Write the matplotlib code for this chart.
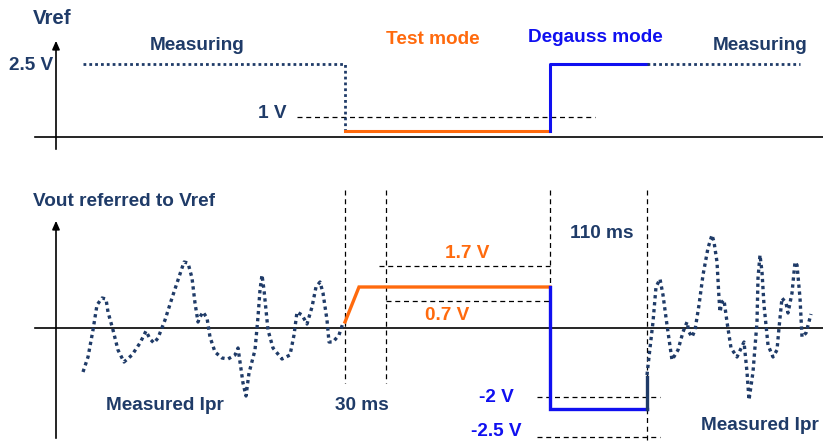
import matplotlib
matplotlib.use("Agg")
import matplotlib.pyplot as plt

# ---------------- data (diagram coordinates) ----------------
# Top panel: Vref levels (y) and time breakpoints (x)
t_meas1 = [83, 345]
t_test = [345, 550]
t_deg = [550, 647]
t_meas2 = [647, 800]
vref_high = 64          # 2.5 V level
vref_low = 131          # test-mode level
vref_1v = 117           # 1 V reference (dashed)
vref_1v_span = [297, 595]

# Bottom panel: test/degauss waveform
test_t = [345, 359, 550]
test_v = [322, 287, 287]
deg_t = [550, 550, 647]
deg_v = [287, 409, 409]
rise_t = [647, 647]
rise_v = [409, 377]

# Bottom panel: measured Ipr noise (left and right)
noise_l_t = [83, 88, 93, 97, 102, 106, 108, 113, 118, 124, 132, 140, 146, 150, 154, 158,
             165, 172, 178, 184, 188, 192, 195, 198, 200, 203, 207, 210, 215, 222, 228,
             235, 238, 240, 243, 246, 249, 255, 258, 260, 262, 264, 268, 273, 282, 290,
             294, 297, 302, 307, 312, 316, 320, 323, 327, 329, 333, 339, 343]
noise_l_v = [372, 357, 330, 305, 298, 299, 312, 330, 350, 362, 355, 343, 331, 339, 343, 338,
             320, 298, 280, 262, 263, 278, 303, 322, 317, 312, 318, 337, 352, 358, 359,
             355, 348, 362, 383, 396, 373, 350, 317, 290, 275, 290, 330, 348, 359, 355,
             335, 312, 315, 324, 307, 287, 282, 293, 320, 342, 342, 335, 323]
noise_r_t = [647, 650, 653, 656, 660, 663, 667, 672, 678, 683, 687, 689, 692, 695, 699,
             703, 708, 712, 714, 717, 719, 720, 722, 724, 727, 731, 737, 744, 745, 747,
             749, 753, 757, 758, 760, 762, 764, 768, 773, 777, 779, 782, 786, 788, 792,
             795, 797, 800, 802, 806, 811]
noise_r_v = [375, 348, 322, 287, 279, 295, 325, 360, 350, 332, 322, 332, 337, 330, 305,
             275, 248, 235, 242, 262, 298, 312, 302, 300, 322, 348, 357, 342, 352, 372,
             400, 372, 322, 278, 255, 272, 305, 345, 357, 350, 328, 298, 303, 313, 293,
             262, 265, 298, 337, 333, 314]

# reference dashed lines in bottom panel
vdash_x = [345, 386, 550, 647]
vdash_top = [190, 190, 190, 190]
vdash_bot = [383, 383, 409, 441]
hdash_y = [266, 301, 397, 437]
hdash_x0 = [379, 386, 537, 537]
hdash_x1 = [550, 550, 660, 660]

# ---------------- style ----------------
NAVY = "#1F3B68"
ORANGE = "#FF6A0D"
BLUE = "#1010F0"
FONT = "Liberation Sans"
FS = 13.7

fig = plt.figure(figsize=(8.23, 4.41), dpi=100)
ax = fig.add_axes([0, 0, 1, 1])
ax.set_xlim(0, 823)
ax.set_ylim(441, 0)
ax.axis("off")

def txt(x, y, s, color=NAVY, size=FS):
    ax.text(x, y, s, color=color, fontsize=size, fontweight="bold",
            family=FONT, ha="center", va="center")

dot = dict(color=NAVY, linestyle=(0, (1, 1.1)), dash_capstyle="butt")
dash = dict(color="black", linewidth=0.9, linestyle=(0, (4, 3)))

# ---- top panel axes ----
ax.plot([35, 823], [137, 137], color="black", linewidth=1.2)
ax.annotate("", xy=(56, 38), xytext=(56, 152),
            arrowprops=dict(arrowstyle="-|>,head_length=0.5,head_width=0.22",
                            color="black", linewidth=1.2))

ax.plot(vref_1v_span, [vref_1v, vref_1v], **dash)
ax.plot([t_meas1[0], t_meas1[1], t_meas1[1]], [vref_high, vref_high, vref_low],
        linewidth=2.0, **dot)
ax.plot(t_test, [vref_low, vref_low], color=ORANGE, linewidth=2.2)
ax.plot([t_deg[0], t_deg[0], t_deg[1]], [vref_low, vref_high, vref_high],
        color=BLUE, linewidth=2.2)
ax.plot(t_meas2, [vref_high, vref_high], linewidth=2.0, **dot)

txt(52, 19, "Vref", size=14.8)
txt(31, 66, "2.5 V")
txt(197, 46, "Measuring")
txt(433, 39, "Test mode", color=ORANGE)
txt(595, 38, "Degauss mode", color=BLUE)
txt(760, 46, "Measuring")
txt(272, 114, "1 V")

# ---- bottom panel axes ----
ax.plot([35, 823], [328, 328], color="black", linewidth=1.2)
ax.annotate("", xy=(56, 218), xytext=(56, 441),
            arrowprops=dict(arrowstyle="-|>,head_length=0.5,head_width=0.22",
                            color="black", linewidth=1.2))

for x, y0, y1 in zip(vdash_x, vdash_top, vdash_bot):
    ax.plot([x, x], [y0, y1], **dash)
for y, x0, x1 in zip(hdash_y, hdash_x0, hdash_x1):
    ax.plot([x0, x1], [y, y], **dash)

ax.plot(noise_l_t, noise_l_v, linewidth=2.4, **dot)
ax.plot(noise_r_t, noise_r_v, linewidth=2.4, **dot)
ax.plot(test_t, test_v, color=ORANGE, linewidth=2.4, solid_joinstyle="miter")
ax.plot(deg_t, deg_v, color=BLUE, linewidth=2.4, solid_joinstyle="miter")
ax.plot(rise_t, rise_v, color=NAVY, linewidth=2.4)

txt(124, 202, "Vout referred to Vref")
txt(165, 405, "Measured Ipr")
txt(362, 405, "30 ms")
txt(467, 254, "1.7 V", color=ORANGE)
txt(447, 316, "0.7 V", color=ORANGE)
txt(602, 234, "110 ms")
txt(496, 398, "-2 V", color=BLUE)
txt(496, 432, "-2.5 V", color=BLUE)
txt(760, 425, "Measured Ipr")

fig.savefig("out.png", dpi=100)
